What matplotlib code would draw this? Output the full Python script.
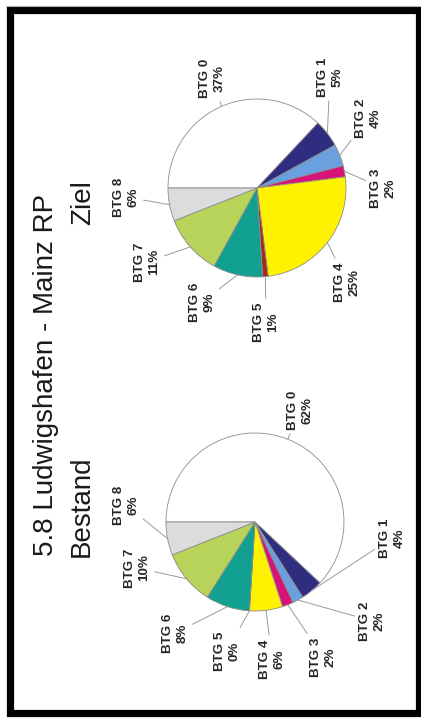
import numpy as np
import matplotlib
matplotlib.use("Agg")
import matplotlib.pyplot as plt
from matplotlib.patches import Rectangle

plt.rcParams['font.family'] = ['Liberation Sans', 'DejaVu Sans']

# Daten: Anteile der Betriebsgrößenklassen (BTG) in Prozent
kategorien = ["BTG 0", "BTG 1", "BTG 2", "BTG 3", "BTG 4", "BTG 5", "BTG 6", "BTG 7", "BTG 8"]
bestand = [62, 4, 2, 2, 6, 0, 8, 10, 6]
ziel = [37, 5, 4, 2, 25, 1, 9, 11, 6]
farben = ["#ffffff", "#2e2d7f", "#6a9fe0", "#d9127a", "#fff200",
          "#a52a1a", "#12a090", "#b8d35a", "#dcdcdc"]

titel = "5.8 Ludwigshafen - Mainz RP"

W, H = 421, 718
fig = plt.figure(figsize=(W / 100, H / 100), dpi=100)
ax = fig.add_axes([0, 0, 1, 1])


def torte(werte, mitte, radius, labelpos):
    wedges, _ = ax.pie(werte, colors=farben, startangle=180, counterclock=True,
                       center=mitte, radius=radius,
                       wedgeprops=dict(edgecolor="#8c8c8c", linewidth=0.6))
    for w, name, wert, (tx, ty) in zip(wedges, kategorien, werte, labelpos):
        # Punkt auf dem Rand in der Mitte des Segments
        a = np.deg2rad((w.theta1 + w.theta2) / 2)
        px = mitte[0] + radius * np.cos(a)
        py = mitte[1] + radius * np.sin(a)
        ax.annotate(f"{name}\n{wert}%", xy=(px, py), xytext=(tx, ty),
                    rotation=90, ha="center", va="center", multialignment="center",
                    fontsize=9.6, fontweight="bold", color="#262626", linespacing=1.3,
                    arrowprops=dict(arrowstyle="-", color="#9a9a9a", lw=0.7,
                                    shrinkA=1, shrinkB=0))


# Ziel (oben)
torte(ziel, (257, 188), 89,
      [(212, 78), (330, 77), (368, 118), (383, 188), (347, 282),
       (266, 322), (202, 302), (147, 262), (126, 197)])

# Bestand (unten)
torte(bestand, (255, 522), 89,
      [(300, 410), (392, 538), (372, 621), (323, 657), (272, 659),
       (227, 651), (175, 633), (137, 568), (126, 505)])

# Titel (gedreht)
ax.text(53, 556, titel, rotation=90, rotation_mode="anchor", ha="left", va="baseline",
        fontsize=20, color="#1a1a1a")
ax.text(89, 557, "Bestand", rotation=90, rotation_mode="anchor", ha="left", va="baseline",
        fontsize=20, color="#1a1a1a")
ax.text(90, 225, "Ziel", rotation=90, rotation_mode="anchor", ha="left", va="baseline",
        fontsize=20, color="#1a1a1a")

# Rahmen
ax.plot([6, 421], [5.5, 5.5], color="#b0b0b0", lw=0.8)
ax.add_patch(Rectangle((9.5, 10), 409.5, 702.5, fill=False, edgecolor="black", lw=5.2))

ax.set_xlim(0, W)
ax.set_ylim(H, 0)
ax.set_aspect("equal")
ax.axis("off")

fig.savefig("out.png", dpi=100, facecolor="white")
